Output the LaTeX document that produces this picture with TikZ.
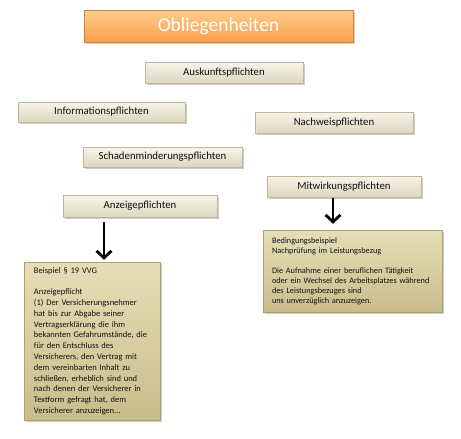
\documentclass[tikz,border=0pt]{standalone}
\usepackage{fontspec}
\setmainfont{Carlito}
\usetikzlibrary{shadows,arrows.meta}
\definecolor{titletop}{HTML}{FFCB8E}
\definecolor{titlebot}{HTML}{F9A04A}
\definecolor{titleedge}{HTML}{D08436}
\definecolor{btntop}{HTML}{F7F4EA}
\definecolor{btnbot}{HTML}{DDD7BE}
\definecolor{btnedge}{HTML}{BEB79B}
\definecolor{boxtop}{HTML}{E6DEB7}
\definecolor{boxbot}{HTML}{C9BD8B}
\definecolor{boxedge}{HTML}{ADA170}
\definecolor{txt}{HTML}{111111}
\tikzset{
  titlebox/.style={draw=titleedge, line width=0.7pt, top color=titletop, bottom color=titlebot,
    minimum width=269pt, minimum height=32pt, inner sep=0pt, text=white,
    font=\fontsize{19.5}{22}\selectfont, drop shadow={opacity=0.35, shadow xshift=1.5pt, shadow yshift=-1.5pt}},
  btn/.style={draw=btnedge, line width=0.5pt, top color=btntop, bottom color=btnbot,
    minimum height=21pt, inner sep=0pt, text=txt,
    font=\fontsize{10.8}{13}\selectfont, drop shadow={opacity=0.4, shadow xshift=1.5pt, shadow yshift=-1.8pt}},
  infobox/.style={draw=boxedge, line width=0.5pt, top color=boxtop, bottom color=boxbot,
    inner ysep=0pt, text=txt, align=left,
    drop shadow={opacity=0.4, shadow xshift=1.5pt, shadow yshift=-1.8pt}},
  arr/.style={line width=2.8pt, -{Straight Barb[length=7pt,width=15pt]}}
}
\begin{document}
\begin{tikzpicture}[x=1pt,y=-1pt]
\useasboundingbox (0,0) rectangle (461,439);
\node[titlebox] (title) at (218.5,26) {Obliegenheiten};
\node[btn, minimum width=158pt] (ausk) at (224,72.5) {Auskunftspflichten};
\node[btn, minimum width=167pt, minimum height=20pt] (info) at (101.5,112) {Informationspflichten};
\node[btn, minimum width=158pt] (nach) at (334,122.5) {Nachweispflichten};
\node[btn, minimum width=159pt, minimum height=20pt] (schad) at (162.5,157) {Schadenminderungspflichten};
\node[btn, minimum width=154pt, minimum height=22pt] (anz) at (140,206) {Anzeigepflichten};
\node[btn, minimum width=154pt] (mit) at (344,186.5) {Mitwirkungspflichten};
\node[infobox, minimum height=158pt, text width=116pt, inner xsep=10pt,
  font=\fontsize{8.5}{10.8}\selectfont] (lbox) at (92,341)
  {Beispiel § 19 VVG\\[10.8pt]Anzeigepflicht\\(1) Der Versicherungsnehmer\\hat bis zur Abgabe seiner\\Vertragserklärung die ihm\\bekannten Gefahrumstände, die\\für den Entschluss des\\Versicherers, den Vertrag mit\\dem vereinbarten Inhalt zu\\schließen, erheblich sind und\\nach denen der Versicherer in\\Textform gefragt hat, dem\\Versicherer anzuzeigen...};
\node[infobox, minimum height=82pt, text width=161pt, inner xsep=9pt,
  font=\fontsize{8.3}{10}\selectfont] (rbox) at (352.5,271)
  {Bedingungsbeispiel\\Nachprüfung im Leistungsbezug\\[10pt]Die Aufnahme einer beruflichen Tätigkeit\\oder ein Wechsel des Arbeitsplatzes während\\des Leistungsbezuges sind\\uns unverzüglich anzuzeigen.};
\draw[arr] ([xshift=-36pt,yshift=-5pt]anz.south) -- ([xshift=12pt,yshift=2pt]lbox.north);
\draw[arr] ([xshift=-11pt,yshift=-1pt]mit.south) -- ([xshift=-19.5pt,yshift=6pt]rbox.north);
\end{tikzpicture}
\end{document}
